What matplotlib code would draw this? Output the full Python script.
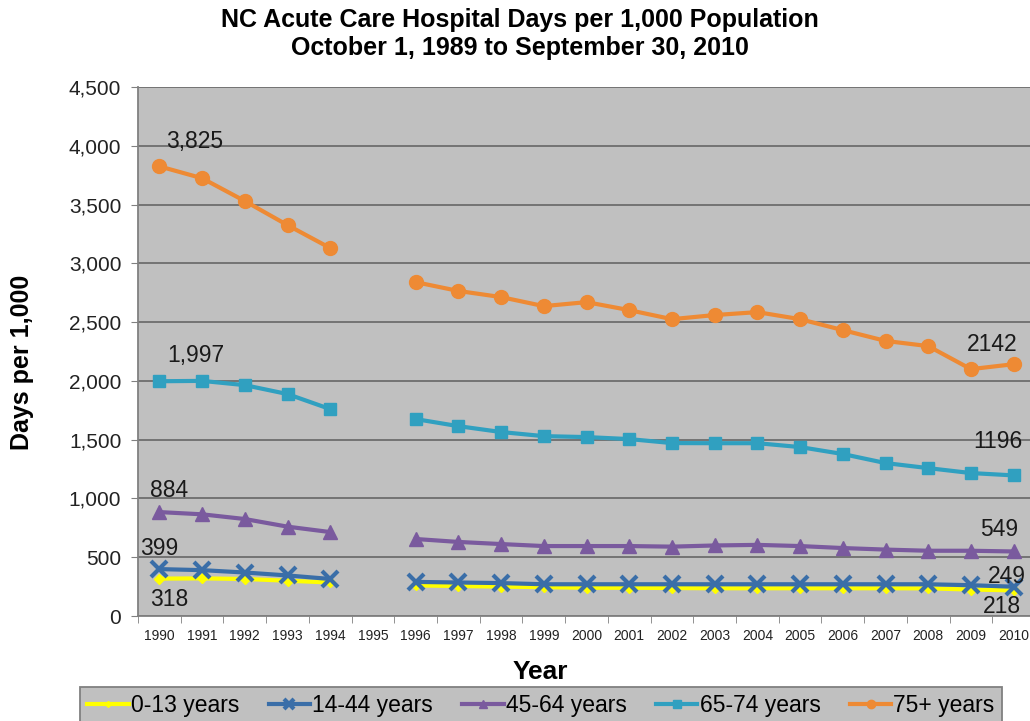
#!/usr/bin/env python3
"""NC acute care hospital days per 1,000 population, 1990-2010"""

import matplotlib
matplotlib.use("Agg")
import matplotlib.pyplot as plt
import numpy as np

plt.rcParams["font.family"] = ["Liberation Sans", "DejaVu Sans"]

years = list(range(1990, 2011))
labels = ["0-13 years", "14-44 years", "45-64 years", "65-74 years", "75+ years"]

# 1995 has no data (gap in the lines)
nan = np.nan
age_0_13 = [318, 320, 315, 300, 285, nan, 260, 255, 250, 245, 240, 240, 238,
            236, 236, 236, 236, 236, 235, 225, 218]
age_14_44 = [399, 390, 370, 345, 315, nan, 290, 285, 280, 270, 270, 270, 270,
             270, 270, 270, 270, 270, 270, 262, 249]
age_45_64 = [884, 865, 825, 760, 714, nan, 655, 630, 612, 595, 595, 595, 590,
             600, 605, 595, 578, 565, 555, 555, 549]
age_65_74 = [1997, 2000, 1964, 1888, 1760, nan, 1675, 1615, 1565, 1530, 1522,
             1505, 1471, 1470, 1470, 1437, 1378, 1301, 1258, 1216, 1196]
age_75 = [3825, 3724, 3530, 3325, 3130, nan, 2840, 2765, 2713, 2636, 2670,
          2602, 2525, 2560, 2585, 2525, 2432, 2340, 2296, 2100, 2142]

series = [age_0_13, age_14_44, age_45_64, age_65_74, age_75]
colors = ["#FFFF00", "#3A6EA8", "#7A5A9E", "#30A0C0", "#EE8A34"]
markers = ["D", "x", "^", "s", "o"]
msizes = [5, 11, 10, 9, 10]

# label text, series index, point index, pixel offset
point_labels = [
    ("3,825", 4, 0, (35, 25)),
    ("1,997", 3, 0, (36, 26)),
    ("884", 2, 0, (10, 22)),
    ("399", 1, 0, (0, 21)),
    ("318", 0, 0, (10, -21)),
    ("2142", 4, -1, (-21, 20)),
    ("1196", 3, -1, (-16, 34)),
    ("549", 2, -1, (-14, 22)),
    ("249", 1, -1, (-7, 10)),
    ("218", 0, -1, (-12, -16)),
]


def plot(ax: plt.Axes):
    ax.set_facecolor("#C0C0C0")
    handles = []
    for vals, c, m, ms, lab in zip(series, colors, markers, msizes, labels):
        mew = 3 if m == "x" else 1
        (h,) = ax.plot(years, vals, color=c, marker=m, markersize=ms,
                       markeredgewidth=mew, markeredgecolor=c, lw=3,
                       label=lab, zorder=3)
        handles.append(h)

    for text, si, pi, off in point_labels:
        ax.annotate(text, xy=(years[pi], series[si][pi]), xytext=off,
                    textcoords="offset pixels", ha="center", va="center",
                    fontsize=16.5, color="#1a1a1a", zorder=5)

    ax.set_xlim(1989.5, 2010.5)
    ax.set_ylim(0, 4500)
    ax.set_xticks(years)
    ax.set_xticklabels([str(y) for y in years], fontsize=10, color="#222222")
    ax.set_xticks(np.arange(1989.5, 2011, 1), minor=True)
    ax.tick_params(axis="x", which="major", length=0, pad=9)
    ax.tick_params(axis="x", which="minor", length=5, color="#808080")
    ax.set_yticks(np.arange(0, 4501, 500))
    ax.set_yticklabels([f"{v:,}" for v in range(0, 4501, 500)],
                       fontsize=15, color="#222222")
    ax.tick_params(axis="y", length=5, color="#808080", pad=7)

    ax.grid(axis="y", color="#6E6E6E", lw=1.3, zorder=1)
    ax.set_axisbelow(True)
    for s in ["top", "right"]:
        ax.spines[s].set_visible(False)
    for s in ["left", "bottom"]:
        ax.spines[s].set_color("#808080")
        ax.spines[s].set_linewidth(1.3)

    ax.set_xlabel("Year", fontsize=19, fontweight="bold")
    ax.set_ylabel("Days per 1,000", fontsize=18, fontweight="bold")
    ax.xaxis.set_label_coords(0.449, -0.083)
    ax.yaxis.set_label_coords(-0.129, 0.48)
    return handles


def main():
    fig = plt.figure(figsize=(10.3, 7.21), dpi=100)
    ax = fig.add_axes([138 / 1030, 1 - 616 / 721, 897 / 1030, 529 / 721])
    handles = plot(ax)
    # center the y label near x=22px
    ax.yaxis.label.set_horizontalalignment("center")
    ax.yaxis.set_label_coords((22 - 138) / 897, 1 - (362 - 87) / 529)
    ax.yaxis.label.set_verticalalignment("center")

    fig.text(0.505, 1 - 20 / 721,
             "NC Acute Care Hospital Days per 1,000 Population",
             ha="center", va="center", fontsize=18, fontweight="bold")
    fig.text(0.505, 1 - 48 / 721, "October 1, 1989 to September 30, 2010",
             ha="center", va="center", fontsize=18, fontweight="bold")

    leg = fig.legend(handles=handles, loc="lower left", ncol=5,
                     bbox_to_anchor=(69 / 1030, -0.02, 944 / 1030, 0.067),
                     mode="expand", fontsize=16.5, handlelength=1.8,
                     handletextpad=0.1, borderpad=0.3, fancybox=False,
                     markerscale=0.6, facecolor="#C0C0C0",
                     edgecolor="#808080", framealpha=1)
    leg.get_frame().set_linewidth(1.3)

    fig.savefig("out.png", dpi=100)


if __name__ == "__main__":
    main()
